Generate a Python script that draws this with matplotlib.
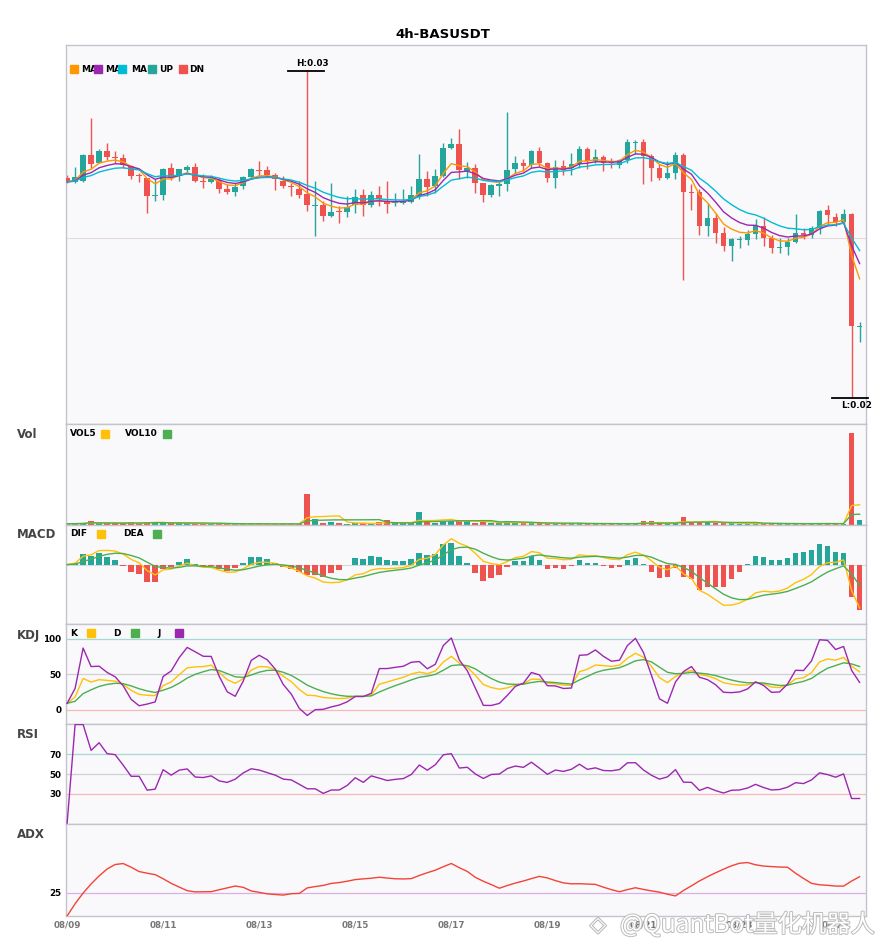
import matplotlib
matplotlib.use('Agg')
import matplotlib.pyplot as plt
from matplotlib.patches import Rectangle
import matplotlib.patheffects as pe
import numpy as np
import pandas as pd

symbol = '4h-BASUSDT'

# 4h candles, 08/09 00:00 .. 08/25 12:00
open_ = [0.02679, 0.02668, 0.02671, 0.02748, 0.02726, 0.02760, 0.02743, 0.02739, 0.02717, 0.02688,
         0.02679, 0.02626, 0.02629, 0.02709, 0.02686, 0.02704, 0.02713, 0.02671, 0.02668, 0.02674,
         0.02646, 0.02638, 0.02656, 0.02683, 0.02703, 0.02703, 0.02688, 0.02671, 0.02656, 0.02646,
         0.02631, 0.02596, 0.02599, 0.02566, 0.02581, 0.02578, 0.02599, 0.02628, 0.02599, 0.02628,
         0.02611, 0.02604, 0.02606, 0.02608, 0.02626, 0.02676, 0.02656, 0.02686, 0.02771, 0.02781,
         0.02701, 0.02709, 0.02664, 0.02629, 0.02656, 0.02663, 0.02706, 0.02724, 0.02719, 0.02761,
         0.02724, 0.02679, 0.02716, 0.02709, 0.02721, 0.02766, 0.02731, 0.02744, 0.02728, 0.02718,
         0.02733, 0.02786, 0.02789, 0.02746, 0.02709, 0.02679, 0.02696, 0.02748, 0.02638, 0.02638,
         0.02536, 0.02559, 0.02514, 0.02476, 0.02494, 0.02494, 0.02511, 0.02536, 0.02501, 0.02471,
         0.02473, 0.02488, 0.02516, 0.02508, 0.02531, 0.02583, 0.02564, 0.02548, 0.02571, 0.02233]
high = [0.02688, 0.02713, 0.02751, 0.02859, 0.02766, 0.02785, 0.02762, 0.02751, 0.02718, 0.02696,
        0.02681, 0.02678, 0.02711, 0.02724, 0.02708, 0.02718, 0.02726, 0.02691, 0.02688, 0.02681,
        0.02661, 0.02666, 0.02686, 0.02711, 0.02730, 0.02716, 0.02696, 0.02686, 0.02664, 0.02671,
        0.03000, 0.02671, 0.02611, 0.02666, 0.02596, 0.02626, 0.02646, 0.02646, 0.02641, 0.02656,
        0.02671, 0.02636, 0.02646, 0.02656, 0.02753, 0.02701, 0.02708, 0.02784, 0.02801, 0.02826,
        0.02728, 0.02721, 0.02666, 0.02661, 0.02671, 0.02879, 0.02746, 0.02736, 0.02764, 0.02773,
        0.02728, 0.02733, 0.02733, 0.02754, 0.02776, 0.02774, 0.02766, 0.02748, 0.02741, 0.02736,
        0.02796, 0.02793, 0.02796, 0.02751, 0.02721, 0.02731, 0.02758, 0.02754, 0.02661, 0.02646,
        0.02604, 0.02576, 0.02534, 0.02501, 0.02506, 0.02523, 0.02558, 0.02564, 0.02508, 0.02501,
        0.02501, 0.02571, 0.02531, 0.02536, 0.02584, 0.02598, 0.02576, 0.02586, 0.02576, 0.02248]
low = [0.02666, 0.02666, 0.02668, 0.02710, 0.02724, 0.02734, 0.02726, 0.02710, 0.02678, 0.02668,
       0.02575, 0.02611, 0.02614, 0.02674, 0.02671, 0.02698, 0.02668, 0.02650, 0.02664, 0.02634,
       0.02631, 0.02626, 0.02646, 0.02681, 0.02686, 0.02684, 0.02644, 0.02651, 0.02626, 0.02621,
       0.02581, 0.02506, 0.02551, 0.02563, 0.02546, 0.02564, 0.02576, 0.02566, 0.02593, 0.02596,
       0.02576, 0.02596, 0.02601, 0.02606, 0.02616, 0.02626, 0.02636, 0.02684, 0.02766, 0.02676,
       0.02681, 0.02634, 0.02608, 0.02623, 0.02626, 0.02641, 0.02696, 0.02701, 0.02711, 0.02716,
       0.02668, 0.02649, 0.02688, 0.02689, 0.02711, 0.02706, 0.02726, 0.02701, 0.02709, 0.02711,
       0.02726, 0.02751, 0.02661, 0.02671, 0.02673, 0.02676, 0.02676, 0.02374, 0.02584, 0.02508,
       0.02506, 0.02486, 0.02461, 0.02431, 0.02471, 0.02478, 0.02496, 0.02476, 0.02456, 0.02456,
       0.02449, 0.02484, 0.02496, 0.02501, 0.02511, 0.02539, 0.02536, 0.02541, 0.02021, 0.02188]
close = [0.02668, 0.02683, 0.02748, 0.02722, 0.02761, 0.02742, 0.02740, 0.02718, 0.02686, 0.02686,
         0.02626, 0.02629, 0.02706, 0.02679, 0.02706, 0.02713, 0.02671, 0.02668, 0.02676, 0.02648,
         0.02639, 0.02653, 0.02683, 0.02706, 0.02700, 0.02688, 0.02676, 0.02656, 0.02652, 0.02628,
         0.02599, 0.02599, 0.02566, 0.02578, 0.02578, 0.02594, 0.02624, 0.02599, 0.02628, 0.02616,
         0.02603, 0.02608, 0.02611, 0.02628, 0.02676, 0.02653, 0.02686, 0.02769, 0.02781, 0.02703,
         0.02709, 0.02664, 0.02629, 0.02658, 0.02661, 0.02703, 0.02724, 0.02716, 0.02761, 0.02724,
         0.02679, 0.02714, 0.02704, 0.02721, 0.02766, 0.02731, 0.02744, 0.02726, 0.02724, 0.02733,
         0.02788, 0.02789, 0.02746, 0.02709, 0.02679, 0.02694, 0.02748, 0.02638, 0.02636, 0.02536,
         0.02559, 0.02514, 0.02476, 0.02496, 0.02498, 0.02511, 0.02536, 0.02501, 0.02471, 0.02474,
         0.02488, 0.02516, 0.02508, 0.02531, 0.02581, 0.02568, 0.02548, 0.02571, 0.02236, 0.02236]
# volume, millions
volume = [0.7, 1.0, 1.3, 3.7, 1.3, 1.0, 1.0, 1.0, 2.7, 1.0,
          2.7, 2.7, 1.3, 1.0, 1.0, 1.0, 1.0, 0.8, 0.8, 0.7,
          0.5, 0.4, 0.4, 0.4, 1.0, 0.5, 0.6, 0.8, 0.6, 0.9,
          30.7, 5.7, 1.7, 2.7, 1.7, 0.7, 1.0, 1.0, 1.0, 2.0,
          4.3, 1.0, 1.0, 1.3, 12.7, 3.3, 1.7, 3.7, 3.7, 4.7,
          3.7, 1.7, 2.0, 1.0, 1.0, 3.7, 1.7, 1.3, 1.0, 1.0,
          1.0, 1.0, 0.8, 0.8, 1.0, 1.0, 0.8, 0.8, 0.7, 0.7,
          1.0, 0.8, 3.7, 3.0, 1.0, 0.8, 1.0, 7.7, 2.0, 2.0,
          2.0, 1.7, 1.2, 1.0, 0.8, 0.8, 1.0, 1.0, 0.8, 0.7,
          0.8, 1.0, 0.8, 0.8, 1.0, 1.0, 0.8, 0.8, 90.7, 4.7]
tick_labels = ['08/09', '08/11', '08/13', '08/15', '08/17', '08/19', '08/21', '08/23', '08/25']
candles_per_tick = 12  # 6 candles a day, label every 2 days

UP, DN = '#26a69a', '#ef5350'
C_MA5, C_MA10, C_MA20 = '#ff9800', '#9c27b0', '#00bcd4'
YEL, GRN, PUR = '#ffc107', '#4caf50', '#9c27b0'

o = pd.Series(open_); h = pd.Series(high); l = pd.Series(low); c = pd.Series(close)
v = pd.Series(volume)
x = np.arange(len(c))
up = (c >= o).values
cols = np.where(up, UP, DN)

# indicators
ma_a = c.ewm(span=5, adjust=False).mean()
ma_b = c.ewm(span=8, adjust=False).mean()
ma_c = c.ewm(span=13, adjust=False).mean()
vol5 = v.rolling(5, min_periods=1).mean()
vol10 = v.rolling(10, min_periods=1).mean()

# fast MACD (6, 13, 5)
dif = c.ewm(span=6, adjust=False).mean() - c.ewm(span=13, adjust=False).mean()
dea = dif.ewm(span=5, adjust=False).mean()
hist = 2 * (dif - dea)

low9 = l.rolling(9, min_periods=1).min()
high9 = h.rolling(9, min_periods=1).max()
rsv = (c - low9) / (high9 - low9) * 100
k = rsv.ewm(com=2, adjust=False).mean()
d = k.ewm(com=2, adjust=False).mean()
j = 3 * k - 2 * d

diff = c.diff().fillna(0)
g = diff.clip(lower=0).ewm(alpha=1/14, adjust=False).mean()
ls = (-diff).clip(lower=0).ewm(alpha=1/14, adjust=False).mean()
rsi = (100 * g / (g + ls)).fillna(0)

pc = c.shift(1).fillna(c.iloc[0])
tr = pd.concat([h - l, (h - pc).abs(), (l - pc).abs()], axis=1).max(axis=1)
upm = h.diff().fillna(0)
dnm = -l.diff().fillna(0)
pdm = np.where((upm > dnm) & (upm > 0), upm, 0.0)
mdm = np.where((dnm > upm) & (dnm > 0), dnm, 0.0)
atr = tr.ewm(span=14, adjust=False).mean()
pdi = 100 * pd.Series(pdm).ewm(span=14, adjust=False).mean() / atr
mdi = 100 * pd.Series(mdm).ewm(span=14, adjust=False).mean() / atr
dx = (100 * (pdi - mdi).abs() / (pdi + mdi)).fillna(0)
adx = dx.ewm(span=14, adjust=False).mean()

# ---------- layout ----------
W, H = 885, 950
fig = plt.figure(figsize=(W / 100, H / 100), dpi=100)
L_, R_ = 65.5, 866
bounds = [(45, 424), (424, 524.5), (524.5, 624), (624, 724), (724, 824), (824, 916)]
axes = []
for top, bot in bounds:
    a = fig.add_axes([L_ / W, 1 - bot / H, (R_ - L_) / W, (bot - top) / H],
                     sharex=axes[0] if axes else None)
    a.set_facecolor('#f9f9fb')
    for s in a.spines.values():
        s.set_color('#c4c4cc')
        s.set_linewidth(1)
    a.tick_params(length=0, labelsize=6.3, pad=3)
    a.set_yticks([])
    axes.append(a)
ax_p, ax_v, ax_m, ax_k, ax_r, ax_a = axes

# price
ax_p.vlines(x, l, h, colors=cols, linewidth=1, zorder=2)
body = np.maximum((c - o).abs().values, 0.00003)
ax_p.bar(x, body, bottom=np.minimum(o, c), width=0.72, color=cols, zorder=3)
ax_p.plot(x, ma_a, color=C_MA5, lw=1.0, zorder=4)
ax_p.plot(x, ma_b, color=C_MA10, lw=1.0, zorder=4)
ax_p.plot(x, ma_c, color=C_MA20, lw=1.0, zorder=4)
ax_p.axhline(0.025, color='#e4dadf', lw=0.8, zorder=1)
lo, hi = l.min(), h.max()
rng = hi - lo
ax_p.set_ylim(lo - 0.08 * rng, hi + 0.08 * rng)
ih, il = int(h.idxmax()), int(l.idxmin())
ax_p.plot([ih - 2.4, ih + 2.1], [hi, hi], color='black', lw=1.3, clip_on=False, zorder=6)
ax_p.text(ih + 0.6, hi + 0.0001, f'H:{hi:.2f}', ha='center', va='bottom', fontsize=6.4,
          weight='bold', zorder=6)
ax_p.plot([il - 2.4, il + 2.1], [lo, lo], color='black', lw=1.3, clip_on=False, zorder=6)
ax_p.text(il + 0.6, lo - 0.0001, f'L:{lo:.2f}', ha='center', va='top', fontsize=6.4,
          weight='bold', zorder=6, clip_on=False)

# volume
ax_v.bar(x, v, width=0.72, color=cols, zorder=3)
ax_v.plot(x, vol5, color=YEL, lw=1.0, zorder=4)
ax_v.plot(x, vol10, color=GRN, lw=1.0, zorder=4)
ax_v.set_ylim(0, v.max() * 1.1)

# MACD
ax_m.axhline(0, color='#d8d8dc', lw=0.8, zorder=1)
ax_m.bar(x, hist, width=0.72, color=np.where(hist >= 0, UP, DN), zorder=3)
ax_m.plot(x, dif, color=YEL, lw=1.0, zorder=4)
ax_m.plot(x, dea, color=GRN, lw=1.0, zorder=4)
mlo = min(hist.min(), dif.min(), dea.min())
mhi = max(hist.max(), dif.max(), dea.max())
mr = mhi - mlo
ax_m.set_ylim(mlo - 0.2 * mr, mhi + 0.2 * mr)

# KDJ
for lvl, lc in [(100, '#a6d9d3'), (50, '#cfcfd4'), (0, '#f6b9b9')]:
    ax_k.axhline(lvl, color=lc, lw=0.9, zorder=1)
ax_k.plot(x, k, color=YEL, lw=1.0, zorder=3)
ax_k.plot(x, d, color=GRN, lw=1.0, zorder=3)
ax_k.plot(x, j, color=PUR, lw=1.0, zorder=3)
ax_k.set_ylim(-20, 121)
ax_k.set_yticks([0, 50, 100])

# RSI
for lvl, lc in [(70, '#a6d9d3'), (50, '#cfcfd4'), (30, '#f6b9b9')]:
    ax_r.axhline(lvl, color=lc, lw=0.9, zorder=1)
ax_r.plot(x, rsi, color=PUR, lw=1.0, zorder=3)
ax_r.set_ylim(-0.5, 100.5)
ax_r.set_yticks([30, 50, 70])

# ADX
ax_a.axhline(25, color='#dcb0e4', lw=0.9, zorder=1)
ax_a.plot(x, adx, color='#f44336', lw=1.0, zorder=3)
ax_a.set_ylim(0, 100)
ax_a.set_yticks([25])

for a in (ax_k, ax_r, ax_a):
    for t in a.get_yticklabels():
        t.set_fontweight('bold')

ax_a.set_xlim(-0.2, len(c) - 0.2)
ax_a.set_xticks(np.arange(len(tick_labels)) * candles_per_tick)
ax_a.set_xticklabels(tick_labels, color='#777777', fontweight='bold', fontsize=6.3)
for a in axes[:-1]:
    a.tick_params(labelbottom=False)

# ---------- texts / legends ----------
def ftext(px, py, s, **kw):
    fig.text(px / W, 1 - py / H, s, va='center', zorder=5, **kw)

def square(px, py, color, size=8):
    fig.patches.append(Rectangle((px / W, 1 - (py + size / 2) / H), size / W, size / H,
                                 transform=fig.transFigure, color=color, zorder=10))

ftext(443, 34, symbol, ha='center', fontsize=9.5, weight='bold')
for name, py in [('Vol', 435), ('MACD', 535), ('KDJ', 635), ('RSI', 735), ('ADX', 835)]:
    ftext(17, py, name, fontsize=8.5, weight='bold', color='#444444')

lg = dict(fontsize=6.5, weight='bold')
for sx, col, tx, s in [(70, C_MA5, 81, 'MA'), (94, C_MA10, 105, 'MA'), (118, C_MA20, 131, 'MA'),
                       (148, UP, 159, 'UP'), (179, DN, 189, 'DN')]:
    ftext(tx, 69, s, **lg)
    square(sx, 69, col)
for py, items in [(434, [(70, 'VOL5', 101, YEL), (125, 'VOL10', 163, GRN)]),
                  (534, [(70, 'DIF', 97, YEL), (123, 'DEA', 153, GRN)]),
                  (633, [(70, 'K', 87, YEL), (113, 'D', 131, GRN), (157, 'J', 175, PUR)])]:
    for tx, s, sx, col in items:
        ftext(tx, py, s, **lg)
        square(sx, py, col)

# watermark
ftext(590, 925, '\u25C7', fontsize=15, color='white',
      path_effects=[pe.withStroke(linewidth=1.5, foreground='#b8b8b8')])
ftext(620, 925, '@QuantBot量化机器人', fontsize=17.5, color='white',
      family=['Noto Sans CJK SC', 'DejaVu Sans'],
      path_effects=[pe.withStroke(linewidth=1.4, foreground='#bcbcbc')])

fig.savefig('out.png', dpi=100)
